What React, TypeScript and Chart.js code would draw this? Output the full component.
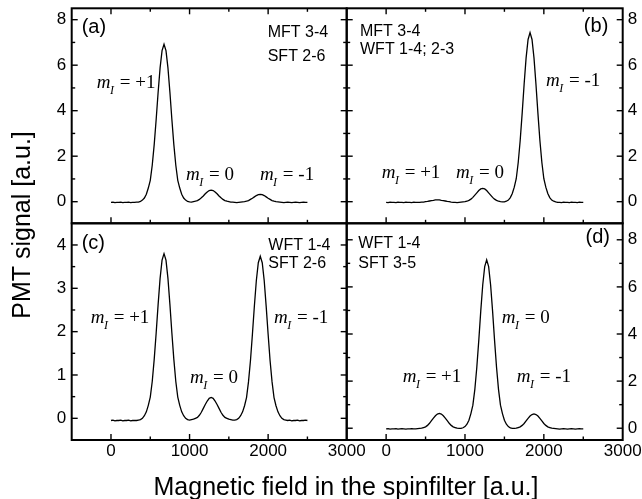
import React, { useEffect, useRef } from "react";
import { Chart, registerables } from "chart.js";
Chart.register(...registerables);

const W = 642;
const H = 499;
const SANS = '"Liberation Sans", Arial, sans-serif';
const SERIF = '"Liberation Serif", "Times New Roman", serif';

// Magnetic field values (x) shared by all four scans
const FIELD = [
  0, 25, 50, 75, 100, 125, 150, 175, 200, 225,
  250, 275, 300, 325, 350, 375, 400, 425, 450, 475,
  500, 525, 550, 575, 600, 625, 650, 675, 700, 725,
  750, 775, 800, 825, 850, 875, 900, 925, 950, 975,
  1000, 1025, 1050, 1075, 1100, 1125, 1150, 1175, 1200, 1225,
  1250, 1275, 1300, 1325, 1350, 1375, 1400, 1425, 1450, 1475,
  1500, 1525, 1550, 1575, 1600, 1625, 1650, 1675, 1700, 1725,
  1750, 1775, 1800, 1825, 1850, 1875, 1900, 1925, 1950, 1975,
  2000, 2025, 2050, 2075, 2100, 2125, 2150, 2175, 2200, 2225,
  2250, 2275, 2300, 2325, 2350, 2375, 2400, 2425, 2450, 2475,
  2500,
];

// (a) MFT 3-4, SFT 2-6
const SIGNAL_A = [
  -0.03, -0.02, -0.04, -0.03, -0.03, -0.02, -0.04, -0.03, -0.03, -0.02,
  -0.04, -0.03, -0.03, -0.02, -0.02, 0.01, 0.07, 0.16, 0.33, 0.6,
  0.94, 1.6, 2.51, 3.61, 4.81, 5.88, 6.64, 6.92, 6.64, 5.88,
  4.81, 3.61, 2.51, 1.6, 0.94, 0.6, 0.33, 0.16, 0.07, 0.01,
  -0.01, -0.02, 0.0, 0.02, 0.05, 0.1, 0.17, 0.25, 0.35, 0.43,
  0.49, 0.51, 0.49, 0.43, 0.35, 0.25, 0.17, 0.1, 0.05, 0.02,
  0.0, -0.02, -0.02, -0.03, -0.04, -0.03, -0.02, -0.01, 0.0, 0.02,
  0.05, 0.1, 0.15, 0.21, 0.27, 0.31, 0.32, 0.31, 0.27, 0.21,
  0.15, 0.1, 0.05, 0.02, 0.0, -0.01, -0.02, -0.03, -0.04, -0.03,
  -0.02, -0.03, -0.04, -0.03, -0.02, -0.03, -0.04, -0.03, -0.02, -0.03,
  -0.03,
];

// (b) MFT 3-4, WFT 1-4; 2-3
const SIGNAL_B = [
  -0.03, -0.04, -0.02, -0.03, -0.03, -0.04, -0.02, -0.03, -0.03, -0.04,
  -0.02, -0.03, -0.03, -0.04, -0.02, -0.03, -0.03, -0.03, -0.02, -0.02,
  0.0, 0.01, 0.03, 0.05, 0.06, 0.08, 0.08, 0.08, 0.06, 0.05,
  0.03, 0.01, 0.0, -0.02, -0.03, -0.03, -0.04, -0.03, -0.02, -0.01,
  0.0, 0.02, 0.06, 0.11, 0.19, 0.29, 0.39, 0.49, 0.56, 0.58,
  0.56, 0.49, 0.39, 0.29, 0.19, 0.11, 0.06, 0.02, 0.0, -0.01,
  -0.01, 0.02, 0.07, 0.18, 0.36, 0.64, 1.01, 1.72, 2.69, 3.88,
  5.16, 6.32, 7.13, 7.43, 7.13, 6.32, 5.16, 3.88, 2.69, 1.72,
  1.01, 0.64, 0.36, 0.18, 0.07, 0.02, -0.01, -0.03, -0.03, -0.04,
  -0.02, -0.03, -0.03, -0.04, -0.02, -0.03, -0.03, -0.04, -0.02, -0.03,
  -0.03,
];

// (c) WFT 1-4, SFT 2-6
const SIGNAL_C = [
  -0.05, -0.04, -0.06, -0.05, -0.05, -0.04, -0.06, -0.05, -0.05, -0.04,
  -0.06, -0.05, -0.05, -0.05, -0.04, -0.03, 0.0, 0.06, 0.15, 0.3,
  0.49, 0.85, 1.36, 1.97, 2.63, 3.23, 3.65, 3.8, 3.65, 3.23,
  2.63, 1.97, 1.36, 0.85, 0.49, 0.3, 0.15, 0.06, 0.0, -0.03,
  -0.04, -0.03, -0.02, 0.0, 0.02, 0.07, 0.14, 0.23, 0.32, 0.4,
  0.46, 0.48, 0.46, 0.4, 0.32, 0.23, 0.14, 0.07, 0.02, 0.0,
  -0.02, -0.03, -0.04, -0.04, -0.03, 0.0, 0.06, 0.15, 0.29, 0.48,
  0.84, 1.33, 1.94, 2.59, 3.18, 3.59, 3.74, 3.59, 3.18, 2.59,
  1.94, 1.33, 0.84, 0.48, 0.29, 0.15, 0.06, 0.0, -0.03, -0.04,
  -0.05, -0.04, -0.06, -0.05, -0.05, -0.04, -0.06, -0.05, -0.05, -0.04,
  -0.05,
];

// (d) WFT 1-4, SFT 3-5
const SIGNAL_D = [
  -0.03, -0.02, -0.04, -0.03, -0.03, -0.02, -0.04, -0.03, -0.02, -0.03,
  -0.04, -0.03, -0.03, -0.02, -0.03, -0.03, -0.02, -0.01, 0.0, 0.03,
  0.06, 0.12, 0.21, 0.32, 0.43, 0.53, 0.6, 0.63, 0.6, 0.53,
  0.43, 0.32, 0.21, 0.12, 0.06, 0.03, 0.0, -0.01, -0.01, 0.02,
  0.07, 0.17, 0.34, 0.62, 0.98, 1.65, 2.59, 3.73, 4.97, 6.08,
  6.86, 7.15, 6.86, 6.08, 4.97, 3.73, 2.59, 1.65, 0.98, 0.62,
  0.34, 0.17, 0.07, 0.01, -0.01, -0.01, 0.0, 0.03, 0.06, 0.12,
  0.2, 0.31, 0.42, 0.52, 0.58, 0.61, 0.58, 0.52, 0.42, 0.31,
  0.2, 0.12, 0.06, 0.03, 0.0, -0.01, -0.02, -0.03, -0.04, -0.03,
  -0.02, -0.03, -0.04, -0.03, -0.02, -0.03, -0.04, -0.03, -0.02, -0.03,
  -0.03,
];

const X_TICKS = [0, 1000, 2000, 3000];
const Y_TICKS_A = [0, 2, 4, 6, 8];
const Y_TICKS_B = [0, 2, 4, 6, 8];
const Y_TICKS_C = [0, 1, 2, 3, 4];
const Y_TICKS_D = [0, 2, 4, 6, 8];

type MLabel = { x: number; y: number; value: string };
const LABELS_A: MLabel[] = [
  { x: -180, y: 5.0, value: "+1" },
  { x: 955, y: 0.95, value: "0" },
  { x: 1895, y: 0.95, value: "-1" },
];
const LABELS_B: MLabel[] = [
  { x: -56, y: 1.04, value: "+1" },
  { x: 886, y: 1.04, value: "0" },
  { x: 2027, y: 5.09, value: "-1" },
];
const LABELS_C: MLabel[] = [
  { x: -258, y: 2.21, value: "+1" },
  { x: 1006, y: 0.81, value: "0" },
  { x: 2075, y: 2.21, value: "-1" },
];
const LABELS_D: MLabel[] = [
  { x: 210, y: 1.97, value: "+1" },
  { x: 1466, y: 4.45, value: "0" },
  { x: 1656, y: 1.97, value: "-1" },
];

type Note = { text: string; dx: number; dy: number; size: number; fromRight?: boolean };

type Panel = {
  id: string;
  signal: number[];
  labels: MLabel[];
  yTicks: number[];
  yMin: number;
  yMax: number;
  yPos: "left" | "right";
  showX: boolean;
  area: { l: number; t: number; r: number; b: number };
  sides: { top: boolean; bottom: boolean; left: boolean; right: boolean };
  notes: Note[];
  titles?: boolean;
};

const PANELS: Panel[] = [
  {
    id: "a", signal: SIGNAL_A, labels: LABELS_A, yTicks: Y_TICKS_A, yMin: -0.95, yMax: 8.5,
    yPos: "left", showX: false,
    area: { l: 71.7, t: 8.3, r: 346.7, b: 223.3 },
    sides: { top: true, bottom: true, left: true, right: true },
    notes: [
      { text: "(a)", dx: 10, dy: 24.7, size: 20 },
      { text: "MFT 3-4", dx: 196, dy: 28.4, size: 16 },
      { text: "SFT 2-6", dx: 196, dy: 53, size: 16 },
    ],
    titles: true,
  },
  {
    id: "b", signal: SIGNAL_B, labels: LABELS_B, yTicks: Y_TICKS_B, yMin: -0.95, yMax: 8.5,
    yPos: "right", showX: false,
    area: { l: 346.7, t: 8.3, r: 622.7, b: 223.3 },
    sides: { top: true, bottom: true, left: true, right: true },
    notes: [
      { text: "(b)", dx: 14.4, dy: 24, size: 20, fromRight: true },
      { text: "MFT 3-4", dx: 13.3, dy: 27.5, size: 16 },
      { text: "WFT 1-4; 2-3", dx: 13.3, dy: 46, size: 16 },
    ],
  },
  {
    id: "c", signal: SIGNAL_C, labels: LABELS_C, yTicks: Y_TICKS_C, yMin: -0.5, yMax: 4.5,
    yPos: "left", showX: true,
    area: { l: 71.7, t: 223.3, r: 346.7, b: 440 },
    sides: { top: false, bottom: true, left: true, right: true },
    notes: [
      { text: "(c)", dx: 10, dy: 26, size: 20 },
      { text: "WFT 1-4", dx: 196.6, dy: 26.7, size: 16 },
      { text: "SFT 2-6", dx: 196.6, dy: 45, size: 16 },
    ],
  },
  {
    id: "d", signal: SIGNAL_D, labels: LABELS_D, yTicks: Y_TICKS_D, yMin: -0.5, yMax: 8.7,
    yPos: "right", showX: true,
    area: { l: 346.7, t: 223.3, r: 622.7, b: 440 },
    sides: { top: false, bottom: true, left: true, right: true },
    notes: [
      { text: "(d)", dx: 12.7, dy: 19.5, size: 20, fromRight: true },
      { text: "WFT 1-4", dx: 11.6, dy: 25, size: 16 },
      { text: "SFT 3-5", dx: 11.6, dy: 45, size: 16 },
    ],
  },
];

function minorTicks(major: number[], min: number, max: number): number[] {
  const out: number[] = [];
  for (let i = 0; i < major.length - 1; i++) out.push((major[i] + major[i + 1]) / 2);
  const step = major[1] - major[0];
  out.push(major[0] - step / 2, major[major.length - 1] + step / 2);
  return out.filter((v) => v > min && v < max);
}

function drawMI(ctx: CanvasRenderingContext2D, x: number, y: number, value: string) {
  ctx.textAlign = "left";
  ctx.textBaseline = "alphabetic";
  ctx.font = `italic 19px ${SERIF}`;
  ctx.fillText("m", x, y);
  let w = ctx.measureText("m").width;
  ctx.font = `italic 12px ${SERIF}`;
  ctx.fillText("I", x + w - 0.5, y + 6);
  w += ctx.measureText("I").width - 0.5;
  ctx.font = `19px ${SERIF}`;
  ctx.fillText(" = " + value, x + w + 1, y);
}

function decor(p: Panel) {
  return {
    id: "decor_" + p.id,
    afterDatasetsDraw(chart: any) {
      const ctx: CanvasRenderingContext2D = chart.ctx;
      const ca = chart.chartArea;
      const xs = chart.scales.x;
      const ys = chart.scales.y;
      ctx.save();
      ctx.strokeStyle = "#000";
      ctx.fillStyle = "#000";
      ctx.lineWidth = 1.4;
      const line = (x1: number, y1: number, x2: number, y2: number) => {
        ctx.beginPath();
        ctx.moveTo(x1, y1);
        ctx.lineTo(x2, y2);
        ctx.stroke();
      };
      const MAJ = 6;
      const MIN = 3.5;
      const xTicks = (vals: number[], len: number) => {
        vals.forEach((v) => {
          const px = xs.getPixelForValue(v);
          if (px <= ca.left + 1 || px >= ca.right - 1) return;
          if (p.sides.bottom) line(px, ca.bottom, px, ca.bottom - len);
          if (p.sides.top) line(px, ca.top, px, ca.top + len);
        });
      };
      const yTicks = (vals: number[], len: number) => {
        vals.forEach((v) => {
          const py = ys.getPixelForValue(v);
          if (py <= ca.top + 1 || py >= ca.bottom - 1) return;
          if (p.sides.left) line(ca.left, py, ca.left + len, py);
          if (p.sides.right) line(ca.right, py, ca.right - len, py);
        });
      };
      xTicks(X_TICKS, MAJ);
      xTicks(minorTicks(X_TICKS, -500, 3000), MIN);
      yTicks(p.yTicks, MAJ);
      yTicks(minorTicks(p.yTicks, p.yMin, p.yMax), MIN);

      ctx.lineWidth = 2;
      ctx.strokeRect(ca.left, ca.top, ca.right - ca.left, ca.bottom - ca.top);

      // panel notes
      p.notes.forEach((n) => {
        ctx.font = `${n.size}px ${SANS}`;
        ctx.textBaseline = "alphabetic";
        if (n.fromRight) {
          ctx.textAlign = "right";
          ctx.fillText(n.text, ca.right - n.dx, ca.top + n.dy);
        } else {
          ctx.textAlign = "left";
          ctx.fillText(n.text, ca.left + n.dx, ca.top + n.dy);
        }
      });

      // m_I labels
      p.labels.forEach((l) => {
        drawMI(ctx, xs.getPixelForValue(l.x), ys.getPixelForValue(l.y), l.value);
      });

      if (p.titles) {
        ctx.font = `25px ${SANS}`;
        ctx.textAlign = "center";
        ctx.textBaseline = "alphabetic";
        ctx.fillText("Magnetic field in the spinfilter [a.u.]", 346, 495);
        ctx.save();
        ctx.translate(30, 225);
        ctx.rotate(-Math.PI / 2);
        ctx.fillText("PMT signal [a.u.]", 0, 0);
        ctx.restore();
      }
      ctx.restore();
    },
  };
}

function buildConfig(p: Panel): any {
  const left = p.yPos === "left";
  const yW = left ? 40 : 19;
  const xH = 30;
  return {
    type: "line",
    data: {
      datasets: [
        {
          data: FIELD.map((x, i) => ({ x, y: p.signal[i] })),
          borderColor: "#000",
          borderWidth: 1.3,
          pointRadius: 0,
          tension: 0,
          fill: false,
        },
      ],
    },
    options: {
      animation: false,
      responsive: false,
      events: [],
      layout: {
        autoPadding: false,
        padding: {
          left: left ? p.area.l - yW : p.area.l,
          right: left ? W - p.area.r : W - p.area.r - yW,
          top: p.area.t,
          bottom: H - p.area.b - (p.showX ? xH : 0),
        },
      },
      plugins: {
        legend: { display: false },
        tooltip: { enabled: false },
        title: { display: false },
      },
      scales: {
        x: {
          type: "linear",
          position: "bottom",
          min: -500,
          max: 3000,
          display: p.showX,
          grid: { display: false, drawTicks: false },
          border: { display: false },
          afterBuildTicks: (s: any) => {
            s.ticks = X_TICKS.map((v) => ({ value: v }));
          },
          afterFit: (s: any) => {
            s.height = p.showX ? xH : 0;
            s.paddingLeft = 0;
            s.paddingRight = 0;
          },
          ticks: {
            color: "#000",
            font: { family: SANS, size: 17 },
            padding: 1,
            maxRotation: 0,
            autoSkip: false,
            callback: (v: any) => String(v),
          },
        },
        y: {
          type: "linear",
          position: p.yPos,
          min: p.yMin,
          max: p.yMax,
          grid: { display: false, drawTicks: false },
          border: { display: false },
          afterBuildTicks: (s: any) => {
            s.ticks = p.yTicks.map((v) => ({ value: v }));
          },
          afterFit: (s: any) => {
            s.width = yW;
            s.paddingTop = 0;
            s.paddingBottom = 0;
          },
          ticks: {
            color: "#000",
            font: { family: SANS, size: 17 },
            padding: left ? 5.5 : 5,
            autoSkip: false,
            callback: (v: any) => String(v),
          },
        },
      },
    },
    plugins: [decor(p)],
  };
}

export default function App() {
  const refs = useRef<(HTMLCanvasElement | null)[]>([]);
  useEffect(() => {
    const charts = PANELS.map((p, i) => new Chart(refs.current[i] as HTMLCanvasElement, buildConfig(p)));
    return () => charts.forEach((c) => c.destroy());
  }, []);
  return (
    <div style={{ position: "absolute", left: 0, top: 0, width: W, height: H, background: "#fff" }}>
      {PANELS.map((p, i) => (
        <canvas
          key={p.id}
          ref={(el) => {
            refs.current[i] = el;
          }}
          width={W}
          height={H}
          style={{ position: "absolute", left: 0, top: 0, width: W, height: H, pointerEvents: "none" }}
        />
      ))}
    </div>
  );
}
